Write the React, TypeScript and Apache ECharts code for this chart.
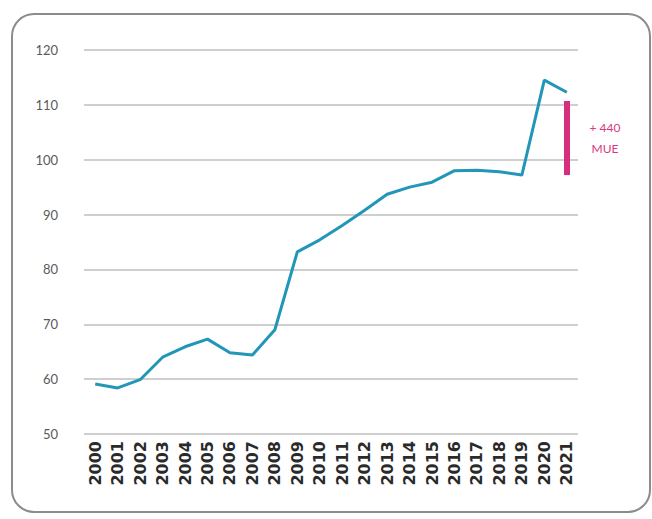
import React, { useEffect, useRef } from "react";
import * as echarts from "echarts";

const years = ["2000","2001","2002","2003","2004","2005","2006","2007","2008","2009","2010","2011","2012","2013","2014","2015","2016","2017","2018","2019","2020","2021"];
const values = [59.1, 58.4, 59.9, 64.0, 65.9, 67.3, 64.8, 64.4, 69.0, 83.2, 85.4, 88.0, 90.8, 93.7, 95.0, 95.9, 98.0, 98.1, 97.8, 97.2, 114.5, 112.3];
const gapFrom = 97.2;
const gapTo = 110.7;
const gapLabel = "+ 440\nMUE";

export default function App() {
  const ref = useRef<HTMLDivElement>(null);
  useEffect(() => {
    const chart = echarts.init(ref.current!, null, { renderer: "svg" });
    chart.setOption({
      animation: false,
      backgroundColor: "#ffffff",
      grid: { left: 84, right: 74, top: 50, bottom: 85 },
      xAxis: {
        type: "category",
        data: years,
        boundaryGap: true,
        axisLine: { show: false },
        axisTick: { show: false },
        axisLabel: {
          rotate: 90,
          margin: 7,
          color: "#2a2a2a",
          fontSize: 16,
          fontWeight: "bold",
          fontFamily: "DejaVu Sans",
          interval: 0,
        },
      },
      yAxis: {
        type: "value",
        min: 50,
        max: 120,
        interval: 10,
        axisLine: { show: false },
        axisTick: { show: false },
        splitLine: { lineStyle: { color: "#cfcfcf", width: 2 } },
        axisLabel: { color: "#5a5a5a", fontSize: 13, margin: 26, fontFamily: "Lato" },
      },
      graphic: [
        {
          type: "rect",
          shape: { x: 12, y: 14, width: 638, height: 498, r: 22 },
          style: { fill: "none", stroke: "#8c8c8c", lineWidth: 2 },
          silent: true,
        },
        {
          type: "text",
          x: 605,
          y: 138,
          style: {
            text: gapLabel,
            fill: "#d63a82",
            fontSize: 12,
            fontFamily: "Lato",
            align: "center",
            verticalAlign: "middle",
            lineHeight: 21,
          },
        },
      ],
      series: [
        {
          type: "line",
          data: values,
          symbol: "none",
          lineStyle: { color: "#2196b8", width: 3 },
          markLine: {
            silent: true,
            symbol: ["none", "none"],
            label: { show: false },
            lineStyle: { color: "#d4307c", width: 6, type: "solid" },
            data: [
              [
                { coord: ["2021", gapFrom] },
                { coord: ["2021", gapTo] },
              ],
            ],
          },
        },
      ],
    });
    return () => chart.dispose();
  }, []);
  return (
    <div
      ref={ref}
      style={{ position: "absolute", left: 0, top: 0, width: 652, height: 519 }}
    />
  );
}
